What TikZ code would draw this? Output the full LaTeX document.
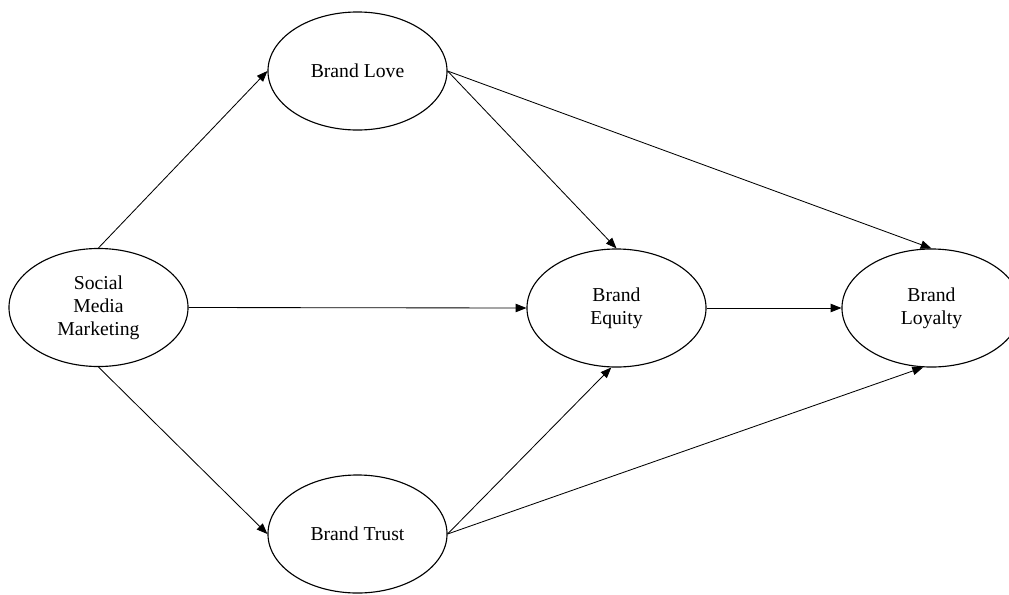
\documentclass[tikz,border=0pt]{standalone}
\usepackage{fontspec}
\setmainfont{Liberation Serif}
\usepackage{tikz}
\usetikzlibrary{arrows.meta, shapes.geometric}

\begin{document}
\begin{tikzpicture}[x=0.025cm, y=-0.025cm,
    construct/.style={draw, line width=0.8pt, ellipse, minimum width=4.475cm, minimum height=2.95cm, inner sep=0pt, align=center, font=\fontsize{14pt}{16.5pt}\selectfont},
    path/.style={line width=0.6pt, -{Triangle[length=2.7mm, width=2.1mm]}}]
    \useasboundingbox (0, 0) rectangle (1009, 594);

    \node[construct] at (98.5, 307.5) (SMM) {Social\\Media\\Marketing};
    \node[construct] at (357.5, 71) (BLove) {Brand Love};
    \node[construct] at (357.5, 534) (BTrust) {Brand Trust};
    \node[construct] at (616.5, 308) (BEquity) {Brand\\Equity};
    \node[construct] at (931.5, 308) (BLoyal) {Brand\\Loyalty};

    \draw[path] (SMM.north) -- (BLove.west);
    \draw[path] (SMM.east) -- (BEquity.west);
    \draw[path] (SMM.south) -- (BTrust.west);
    \draw[path] (BLove.east) -- (BEquity.north);
    \draw[path] (BLove.east) -- (BLoyal.north);
    \draw[path] (BTrust.east) -- (BEquity.265);
    \draw[path] (BTrust.east) -- (BLoyal.262);
    \draw[path] (BEquity.east) -- (BLoyal.west);
\end{tikzpicture}
\end{document}
